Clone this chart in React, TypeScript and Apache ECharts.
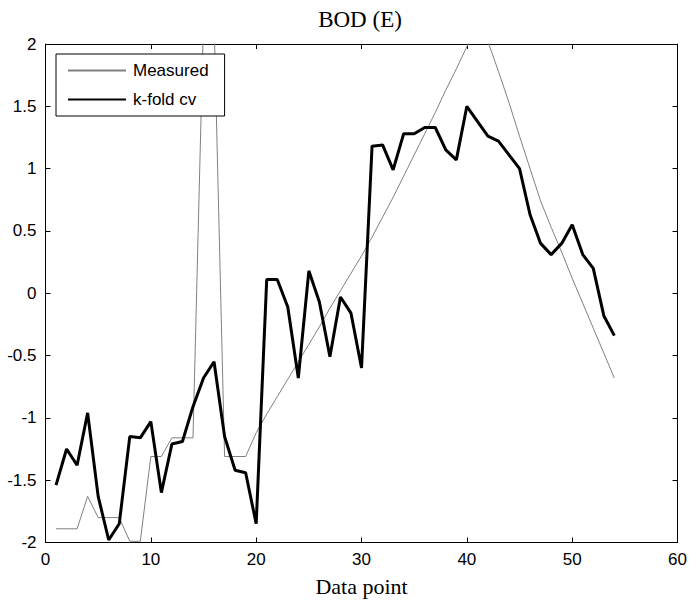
import React, { useEffect, useRef } from "react";
import * as echarts from "echarts";

const titleText = "BOD (E)";
const xLabel = "Data point";
const seriesNames = ["Measured", "k-fold cv"];

const measured = [
  -1.89, -1.89, -1.89, -1.63, -1.8, -1.8, -1.8, -1.99, -1.99, -1.31,
  -1.31, -1.16, -1.16, -1.16, 2.2, 2.2, -1.31, -1.31, -1.31, -1.12,
  -0.97, -0.83, -0.69, -0.55, -0.41, -0.27, -0.12, 0.02, 0.16, 0.3,
  0.45, 0.61, 0.77, 0.94, 1.11, 1.28, 1.45, 1.63, 1.8, 1.98,
  2.15, 2.02, 1.78, 1.53, 1.26, 1.0, 0.74, 0.53, 0.33, 0.12,
  -0.08, -0.28, -0.48, -0.68,
];

const kfold = [
  -1.54, -1.25, -1.38, -0.96, -1.63, -1.98, -1.85, -1.15, -1.16, -1.03,
  -1.6, -1.21, -1.19, -0.91, -0.68, -0.55, -1.15, -1.42, -1.44, -1.85,
  0.11, 0.11, -0.11, -0.68, 0.18, -0.07, -0.51, -0.03, -0.16, -0.6,
  1.18, 1.19, 0.99, 1.28, 1.28, 1.33, 1.33, 1.15, 1.07, 1.5,
  1.38, 1.26, 1.22, 1.11, 1.0, 0.63, 0.4, 0.31, 0.4, 0.55,
  0.31, 0.2, -0.18, -0.34,
];

const xMin = 0, xMax = 60, xStep = 10;
const yMin = -2, yMax = 2, yStep = 0.5;

export default function App() {
  const ref = useRef<HTMLDivElement>(null);
  useEffect(() => {
    const chart = echarts.init(ref.current!, null, { renderer: "svg" });
    const sans = "Liberation Sans, Arial, sans-serif";
    const serif = "Liberation Serif, Times New Roman, serif";
    const axisBase = {
      axisLine: { show: true, onZero: false, lineStyle: { color: "#000", width: 1 } },
      axisTick: { show: true, inside: true, length: 5, lineStyle: { color: "#000", width: 1 } },
      splitLine: { show: false },
    };
    chart.setOption({
      animation: false,
      backgroundColor: "#fff",
      title: {
        text: titleText,
        left: 360,
        top: 8,
        padding: 0,
        textAlign: "center",
        textStyle: { fontFamily: serif, fontSize: 23, fontWeight: "normal", color: "#000" },
      },
      grid: { left: 45.5, top: 44, width: 633, height: 498.5, containLabel: false },
      legend: {
        orient: "vertical",
        left: 56,
        top: 54,
        padding: [8, 16, 8, 11],
        itemWidth: 58,
        itemHeight: 12,
        itemGap: 12,
        borderColor: "#000",
        borderWidth: 1,
        borderRadius: 0,
        backgroundColor: "#fff",
        itemStyle: { opacity: 0 },
        textStyle: { fontSize: 17, fontFamily: sans, color: "#000", padding: [0, 0, 0, 2] },
        data: seriesNames,
      },
      xAxis: [
        {
          type: "value", min: xMin, max: xMax, interval: xStep, position: "bottom",
          ...axisBase,
          axisLabel: { margin: 8, fontSize: 17, color: "#000", fontFamily: sans },
          name: xLabel, nameLocation: "middle", nameGap: 33,
          nameTextStyle: { fontFamily: serif, fontSize: 22, color: "#000" },
        },
        {
          type: "value", min: xMin, max: xMax, interval: xStep, position: "top",
          ...axisBase, axisLabel: { show: false },
        },
      ],
      yAxis: [
        {
          type: "value", min: yMin, max: yMax, interval: yStep, position: "left",
          ...axisBase,
          axisLabel: { margin: 9, fontSize: 17, color: "#000", fontFamily: sans },
        },
        {
          type: "value", min: yMin, max: yMax, interval: yStep, position: "right",
          ...axisBase, axisLabel: { show: false },
        },
      ],
      series: [
        {
          type: "line", name: seriesNames[0], xAxisIndex: 0, yAxisIndex: 0,
          data: measured.map((v, i) => [i + 1, v]),
          symbol: "none", clip: true,
          lineStyle: { color: "#808080", width: 1 }, itemStyle: { color: "#808080" },
        },
        {
          type: "line", name: seriesNames[1], xAxisIndex: 0, yAxisIndex: 0,
          data: kfold.map((v, i) => [i + 1, v]),
          symbol: "none", clip: true,
          lineStyle: { color: "#000", width: 3 }, itemStyle: { color: "#000" },
        },
      ],
    });
    return () => chart.dispose();
  }, []);
  return (
    <div
      ref={ref}
      style={{ position: "absolute", left: 0, top: 0, width: 690, height: 603, background: "#fff" }}
    />
  );
}
